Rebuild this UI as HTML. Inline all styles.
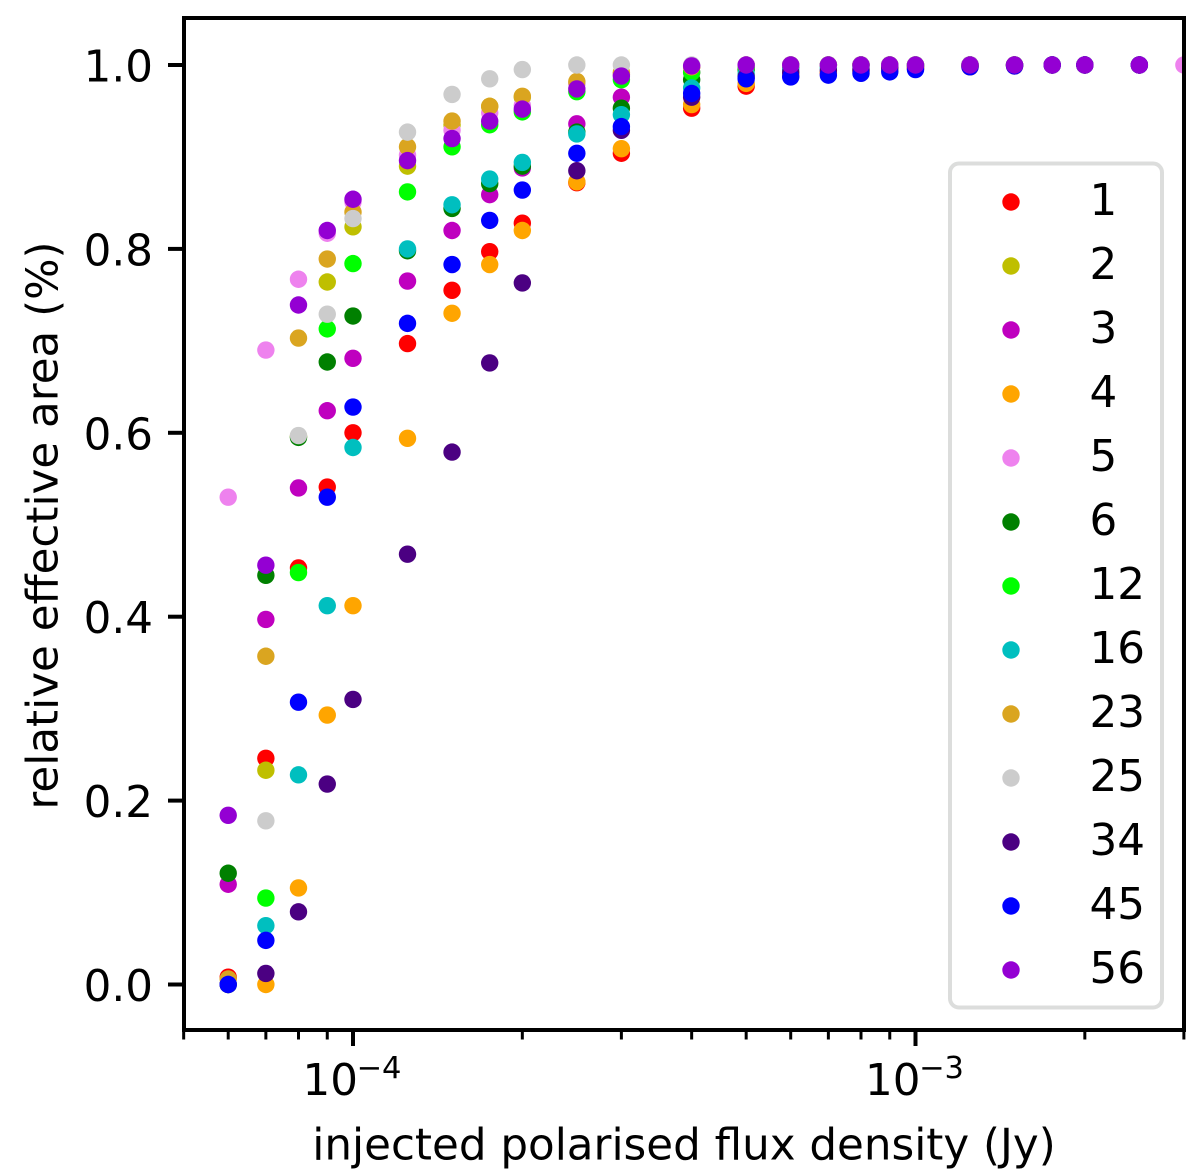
<!DOCTYPE html>
<html lang="en">
<head>
<meta charset="utf-8">
<title>Relative effective area vs injected polarised flux density</title>
<style>
html,body{margin:0;padding:0;background:#fff;width:1200px;height:1175px;overflow:hidden}
svg{display:block}
text{font-family:"DejaVu Sans","Liberation Sans",sans-serif;fill:#000}
</style>
</head>
<body>
<svg id="chart" width="1200" height="1175" viewBox="0 0 1200 1175" xmlns="http://www.w3.org/2000/svg">
  <defs>
    <clipPath id="plot-clip"><rect x="184" y="18" width="1000" height="1012"/></clipPath>
  </defs>
  <g id="marks" clip-path="url(#plot-clip)"></g>
  <g id="ticks"></g>
  <rect x="184" y="18" width="1000" height="1012" fill="none" stroke="#000" stroke-width="4"/>
  <text x="684" y="1159.5" font-size="43.6" text-anchor="middle">injected polarised flux density (Jy)</text>
  <text transform="translate(57.5,525.5) rotate(-90)" font-size="43.6" text-anchor="middle">relative effective area (%)</text>
  <g id="legend">
    <rect x="950" y="163.5" width="212" height="844" rx="9" ry="9" fill="#fff" fill-opacity="0.8" stroke="#dcdddc" stroke-width="4"/>
  </g>
</svg>
<script>
// Injected flux density (Jy)
const fluxValues = [6e-5,7e-5,8e-5,9e-5,1e-4,1.25e-4,1.5e-4,1.75e-4,2e-4,2.5e-4,3e-4,4e-4,5e-4,6e-4,7e-4,8e-4,9e-4,1e-3,1.25e-3,1.5e-3,1.75e-3,2e-3,2.5e-3,3e-3];

// Series labels and colours
const seriesLabels = ['1','2','3','4','5','6','12','16','23','25','34','45','56'];
const seriesColors = ['#ff0000','#bfbf00','#bf00bf','#ffa500','#ee82ee','#008000','#00ff00','#00bfbf','#daa520','#cccccc','#4b0082','#0000ff','#9400d3'];

// Relative effective area per series
const series1  = [0.008,0.246,0.453,0.541,0.600,0.697,0.755,0.797,0.828,0.872,0.904,0.953,0.977,0.988,0.991,0.993,0.995,0.996,0.998,0.999,1,1,1,null];
const series2  = [0,0.233,0.596,0.764,0.824,0.890,0.935,0.955,0.965,0.980,0.990,0.998,1,1,1,1,1,1,1,1,1,1,1,null];
const series3  = [0.109,0.397,0.540,0.624,0.681,0.765,0.820,0.859,0.888,0.936,0.965,0.992,0.998,1,1,1,1,1,1,1,1,1,1,null];
const series4  = [0,0,0.105,0.293,0.412,0.594,0.730,0.783,0.820,0.873,0.909,0.957,0.980,0.989,0.992,0.994,0.995,0.997,0.998,0.999,1,1,1,null];
const series5  = [0.530,0.690,0.767,0.817,0.851,0.902,0.929,0.948,0.956,0.980,0.990,0.998,1,1,1,1,1,1,1,1,1,1,1,1];
const series6  = [0.121,0.445,0.595,0.677,0.727,0.798,0.844,0.871,0.890,0.927,0.953,0.984,0.995,0.998,1,1,1,1,1,1,1,1,1,null];
const series12 = [0,0.094,0.448,0.713,0.784,0.862,0.911,0.935,0.949,0.971,0.984,0.992,0.998,1,1,1,1,1,1,1,1,1,1,null];
const series16 = [0,0.064,0.228,0.412,0.584,0.800,0.848,0.876,0.894,0.925,0.946,0.975,0.990,0.995,0.997,0.998,0.999,1,1,1,1,1,1,null];
const series23 = [0.006,0.357,0.703,0.789,0.840,0.911,0.939,0.955,0.966,0.982,0.992,0.998,1,1,1,1,1,1,1,1,1,1,1,null];
const series25 = [0,0.178,0.597,0.729,0.833,0.927,0.968,0.985,0.995,1,1,1,1,1,1,1,1,1,1,1,1,1,1,null];
const series34 = [0,0.012,0.079,0.218,0.310,0.468,0.579,0.676,0.763,0.885,0.929,0.965,0.987,0.992,0.994,0.995,0.997,0.998,0.999,1,1,1,1,null];
const series45 = [0,0.048,0.307,0.530,0.628,0.719,0.783,0.831,0.864,0.904,0.933,0.969,0.985,0.987,0.989,0.991,0.9925,0.995,0.998,0.999,1,1,1,null];
const series56 = [0.184,0.456,0.739,0.820,0.854,0.896,0.920,0.939,0.952,0.974,0.988,0.999,1,1,1,1,1,1,1,1,1,1,1,null];
const allSeries = [series1,series2,series3,series4,series5,series6,series12,series16,series23,series25,series34,series45,series56];

// Tick labels
const yTickValues = [0,0.2,0.4,0.6,0.8,1];
const yTickLabels = ['0.0','0.2','0.4','0.6','0.8','1.0'];
const xMajorExponents = [-4,-3];
const xMinorValues = [5e-5,6e-5,7e-5,8e-5,9e-5,2e-4,3e-4,4e-4,5e-4,6e-4,7e-4,8e-4,9e-4,2e-3,3e-3];

const NS = 'http://www.w3.org/2000/svg';
function xScale(v){ return 353 + (Math.log10(v) + 4) * 562.5; }
function yScale(v){ return 984.5 - v * 919.5; }
function make(tag, parent, attrs){
  const el = document.createElementNS(NS, tag);
  for (const k in attrs) el.setAttribute(k, attrs[k]);
  parent.appendChild(el);
  return el;
}

const marks = document.getElementById('marks');
allSeries.forEach(function(values, s){
  const group = make('g', marks, {});
  
  
  values.forEach(function(v, i){
    if (v === null) return;
    const dot = make('circle', group, {cx: xScale(fluxValues[i]), cy: yScale(v), r: 8.7, fill: seriesColors[s]});
    
    
  });
});

const ticks = document.getElementById('ticks');
yTickValues.forEach(function(v, i){
  const y = yScale(v);
  const t = make('line', ticks, {x1: 168, x2: 184, y1: y, y2: y, stroke: '#000', 'stroke-width': 4});
  
  
  const lab = make('text', ticks, {x: 153, y: y + 16.5, 'font-size': 43.6, 'text-anchor': 'end'});
  
  
  lab.textContent = yTickLabels[i];
});
xMinorValues.forEach(function(v){
  const x = xScale(v);
  const t = make('line', ticks, {x1: x, x2: x, y1: 1030, y2: 1039.5, stroke: '#000', 'stroke-width': 3});
  
  
});
xMajorExponents.forEach(function(e){
  const x = xScale(Math.pow(10, e));
  const t = make('line', ticks, {x1: x, x2: x, y1: 1030, y2: 1046, stroke: '#000', 'stroke-width': 4});
  
  
  const base = make('text', ticks, {x: x - 50.5, y: 1095, 'font-size': 43.6});
  
  
  base.textContent = '10';
  const sup = make('text', ticks, {x: x + 3.5, y: 1078, 'font-size': 30.5});
  
  
  sup.textContent = '\u2212' + Math.abs(e);
});

const legend = document.getElementById('legend');
seriesLabels.forEach(function(label, i){
  const cy = 202 + i * 64;
  const entry = make('g', legend, {});
  
  
  make('circle', entry, {cx: 1011, cy: cy, r: 8.7, fill: seriesColors[i]});
  const txt = make('text', entry, {x: 1089.5, y: cy + 13, 'font-size': 43.6});
  txt.textContent = label;
});
</script>
</body>
</html>
